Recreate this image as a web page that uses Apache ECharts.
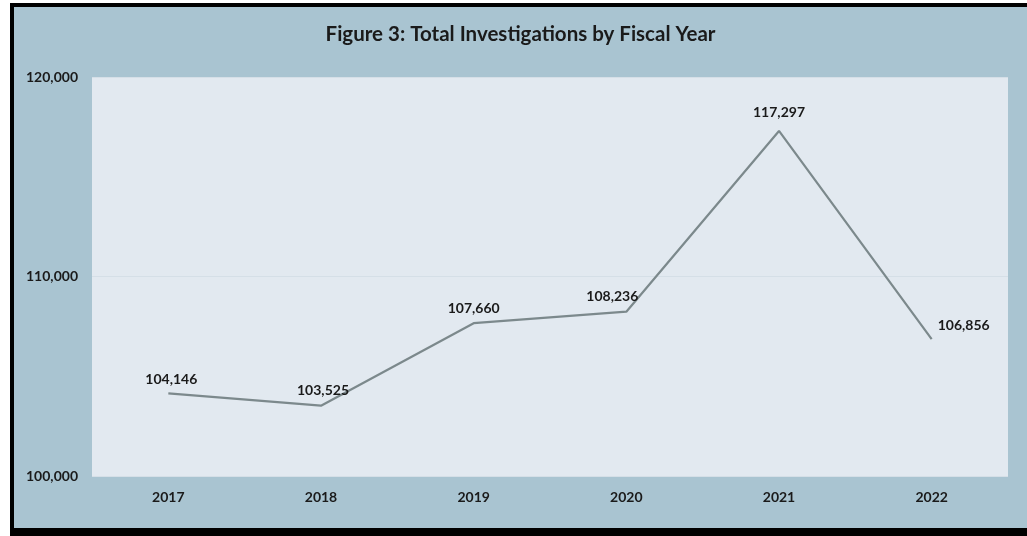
<!DOCTYPE html>
<html>
<head>
<meta charset="utf-8">
<script src="https://cdn.jsdelivr.net/npm/echarts@6/dist/echarts.min.js"></script>
<style>
html,body{margin:0;padding:0;background:#ffffff;width:1027px;height:536px;overflow:hidden;}
#frame{position:absolute;left:10px;top:3px;width:1017px;height:533px;background:#000;}
#chart{position:absolute;left:14px;top:7px;width:1013px;height:521px;background:#a9c4d1;}
</style>
</head>
<body>
<div id="frame"></div>
<div id="chart"></div>
<script>
var titleText = "Figure 3: Total Investigations by Fiscal Year";
var years = ["2017", "2018", "2019", "2020", "2021", "2022"];
var investigations = [104146, 103525, 107660, 108236, 117297, 106856];
var yTicks = [100000, 110000, 120000];

var labelCfg = [
  {position: 'top', offset: [3, 1]},
  {position: 'top', offset: [2, 0]},
  {position: 'top', offset: [0, 0]},
  {position: 'top', offset: [-14, 0]},
  {position: 'top', offset: [0, -3]},
  {position: 'right', offset: [-2, -14]}
];

var chart = echarts.init(document.getElementById('chart'));
chart.setOption({
  backgroundColor: '#a9c4d1',
  animation: false,
  title: {
    text: titleText,
    left: 'center',
    top: 12,
    textStyle: {fontFamily: 'Lato', fontWeight: 'bold', fontSize: 20.5, color: '#1a1a1a'}
  },
  grid: {left: 78, right: 19, top: 70, bottom: 52, show: true, backgroundColor: '#e2e9f0', borderWidth: 0},
  xAxis: {
    type: 'category',
    data: years,
    boundaryGap: true,
    axisLine: {show: false},
    axisTick: {show: false},
    axisLabel: {fontFamily: 'Lato', fontWeight: 'bold', fontSize: 14, color: '#1a1a1a', margin: 14}
  },
  yAxis: {
    type: 'value',
    min: 100000,
    max: 120000,
    interval: 10000,
    axisLine: {show: false},
    axisTick: {show: false},
    splitLine: {show: true, lineStyle: {color: '#d5dfe7', width: 1}},
    axisLabel: {
      fontFamily: 'Lato', fontWeight: 'bold', fontSize: 14, color: '#1a1a1a', margin: 14,
      formatter: function (v) { return yTicks.indexOf(v) >= 0 ? v.toLocaleString('en-US') : ''; }
    }
  },
  series: [{
    type: 'line',
    data: investigations.map(function (v, i) {
      return {value: v, label: {position: labelCfg[i].position, offset: labelCfg[i].offset}};
    }),
    symbol: 'circle',
    symbolSize: 0.01,
    showSymbol: true,
    itemStyle: {color: 'rgba(0,0,0,0)'},
    lineStyle: {color: '#7c898c', width: 2.2},
    label: {
      show: true,
      distance: 8,
      fontFamily: 'Lato', fontWeight: 'bold', fontSize: 14, color: '#1a1a1a',
      formatter: function (p) { return p.value.toLocaleString('en-US'); }
    }
  }]
});
</script>
</body>
</html>
